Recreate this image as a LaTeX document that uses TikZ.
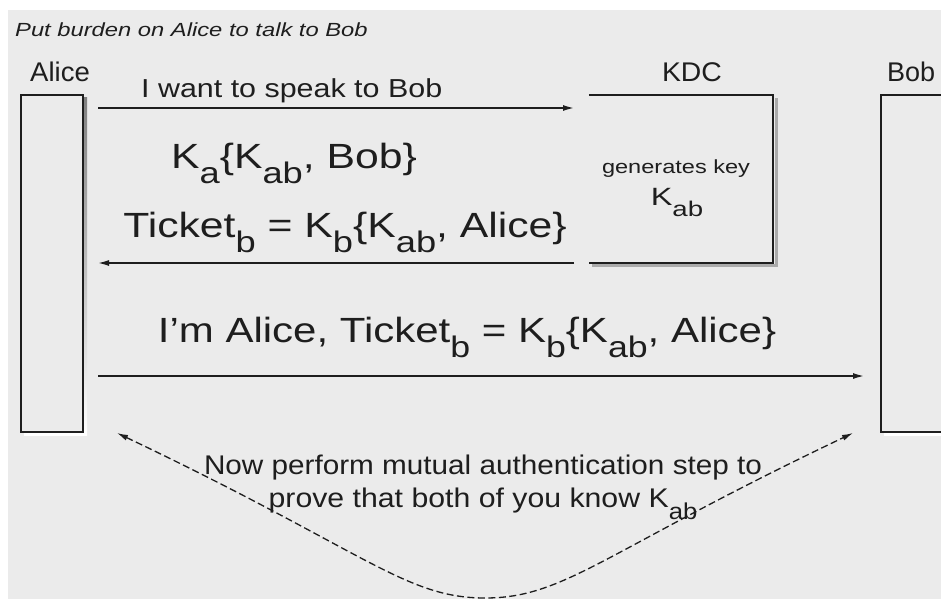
\documentclass[tikz,border=0pt]{standalone}
\usepackage{fontspec}
\setmainfont{Liberation Sans}
\usetikzlibrary{arrows.meta}
\definecolor{bg}{HTML}{EBEBEB}
\definecolor{ink}{HTML}{1E1E1E}
\definecolor{shade}{HTML}{ABABAB}
\newcommand\dn[1]{\raisebox{-0.45em}{\scalebox{0.85}{#1}}}
\newcommand\stretchx[2]{\scalebox{#1}[1]{#2}}
\begin{document}
\begin{tikzpicture}[x=1pt,y=-1pt,
  box/.style={draw=ink, line width=1.8pt, fill=bg, inner sep=0pt},
  shadowline/.style={draw=shade, line width=3pt},
  msg/.style={draw=ink, line width=1.4pt, -{Latex[length=11pt,width=6pt]}},
  mutual/.style={draw=ink, line width=1.3pt, dashed, dash pattern=on 7pt off 3.5pt,
     {Latex[length=11pt,width=6pt]}-{Latex[length=11pt,width=6pt]}},
  txt/.style={inner sep=0pt, text=ink},
  lab/.style={txt, font=\fontsize{27}{30}\selectfont, anchor=base},
  big/.style={txt, font=\fontsize{35}{40}\selectfont, anchor=base},
  mid/.style={txt, font=\fontsize{27}{30}\selectfont, anchor=base}]
\clip (0,0) rectangle (941,599);
\fill[white] (0,0) rectangle (941,599);
\fill[bg] (8,10) rectangle (941,599);

% title
\node[txt, font=\fontsize{19}{21}\selectfont\itshape, anchor=base west] (title) at (15,37)
  {\stretchx{1.25}{Put burden on Alice to talk to Bob}};

% shadows
\fill[shade] (24,98) rectangle (87,435);
\draw[shadowline] (592,265) -- (776,265) -- (776,98);
\fill[shade] (884,98) rectangle (950,435);

% boxes
\node[box, minimum width=62pt, minimum height=337pt] (alice) at (52,263.5) {};
\node[box, minimum width=80pt, minimum height=337pt] (bob) at (921,263.5) {};
\node[inner sep=0pt, minimum width=184pt, minimum height=168pt] (kdc) at (681,179) {};
\draw[ink, line width=1.8pt] (kdc.north west) -- (kdc.north east) -- (kdc.south east) -- (kdc.south west);

% labels
\node[lab] (alicelab) at (60,82) {\stretchx{1.02}{Alice}};
\node[lab] (kdclab) at (692,82) {\stretchx{1.05}{KDC}};
\node[lab, anchor=base west] (boblab) at (887,82) {Bob};

% KDC content
\node[txt, font=\fontsize{19}{21}\selectfont, anchor=base] (gen) at (676,173) {\stretchx{1.24}{generates key}};
\node[txt, font=\fontsize{25}{27}\selectfont, anchor=base] (kab) at (677,205) {\stretchx{1.3}{K\dn{ab}}};

% message 1
\coordinate (m1s) at (98,108);
\coordinate (m1e) at (574,108);
\draw[msg] (m1s) -- (m1e);
\node[txt, font=\fontsize{26}{28}\selectfont, anchor=base west] (t1) at (141,98) {\stretchx{1.17}{I want to speak to Bob}};

% message 2
\node[big] (t2a) at (294,168) {\stretchx{1.22}{K\dn{a}\{K\dn{ab}, Bob\}}};
\node[big] (t2b) at (345,237) {\stretchx{1.22}{Ticket\dn{b} = K\dn{b}\{K\dn{ab}, Alice\}}};
\coordinate (m2s) at (574,263);
\coordinate (m2e) at (98,263);
\draw[msg] (m2s) -- (m2e);

% message 3
\node[big] (t3) at (467,342) {\stretchx{1.2}{I'm Alice, Ticket\dn{b} = K\dn{b}\{K\dn{ab}, Alice\}}};
\coordinate (m3s) at (98,376);
\coordinate (m3e) at (864,376);
\draw[msg] (m3s) -- (m3e);

% mutual authentication
\coordinate (la) at (117,433);
\coordinate (ra) at (853,433);
\coordinate (bot) at (485,598);
\draw[mutual] (la) .. controls (367,552) and (405,598) .. (bot)
   .. controls (565,598) and (603,552) .. (ra);
\node[mid] (t4) at (483,474) {\stretchx{1.1}{Now perform mutual authentication step to}};
\node[mid] (t5) at (483,507) {\stretchx{1.12}{prove that both of you know K\dn{ab}}};
\end{tikzpicture}
\end{document}
